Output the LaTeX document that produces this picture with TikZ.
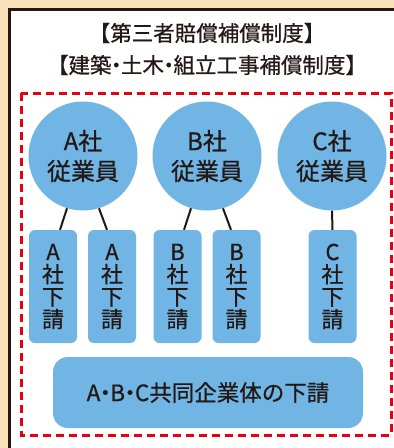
\documentclass[tikz,border=0pt]{standalone}
\usepackage{fontspec}
\setmainfont{Noto Sans CJK JP}[FakeBold=0.6]
\usepackage{tikz}
\usetikzlibrary{positioning}
\definecolor{bgbeige}{RGB}{250,225,187}
\definecolor{staffblue}{RGB}{112,181,228}
\definecolor{framered}{RGB}{230,0,18}
\definecolor{inkdark}{RGB}{35,24,21}
\newcommand{\nakadot}{\hspace{-0.28em}・\hspace{-0.28em}}
\tikzset{
  staff/.style={circle,fill=staffblue,minimum size=109pt,inner sep=0pt,align=center,text=inkdark,font=\fontsize{24}{30}\selectfont},
  subbox/.style={rectangle,rounded corners=6pt,fill=staffblue,minimum width=48pt,minimum height=113pt,inner sep=0pt,align=center,text=inkdark,font=\fontsize{22}{22.5}\selectfont},
  jointbox/.style={rectangle,rounded corners=15pt,fill=staffblue,minimum width=310pt,minimum height=71pt,inner sep=0pt,text=inkdark,font=\fontsize{22.5}{25}\selectfont},
  link/.style={draw=inkdark,line width=2pt}
}
\begin{document}
\begin{tikzpicture}[x=1pt,y=-1pt]
 	\useasboundingbox (0,0) rectangle (394,448);
 	\clip (0,0) rectangle (394,448);
 	%background and panel
 	\fill[bgbeige] (0,0) rectangle (394,448);
 	\filldraw[fill=white,draw=inkdark,line width=3pt] (9.5,460) -- (9.5,9.5) -- (410,9.5) -- (410,460) -- cycle;
 	\node[align=center,text=inkdark,font=\fontsize{21.5}{32}\selectfont] (title) at (207,49) {【第三者賠償補償制度】\\【建築\nakadot 土木\nakadot 組立工事補償制度】};
 	\draw[framered,line width=3pt,dash pattern=on 8pt off 5pt] (21,93) rectangle (391,435);
 	%employees
 	\node[staff] (ca) at (83,156) {A社\\従業員};
 	\node[staff] (cb) at (207,156) {B社\\従業員};
 	\node[staff] (cc) at (332,156) {C社\\従業員};
 	%subcontractors
 	\node[subbox] (a1) at (53,286.5) {A\\社\\下\\請};
 	\node[subbox] (a2) at (112,286.5) {A\\社\\下\\請};
 	\node[subbox] (b1) at (177.5,286.5) {B\\社\\下\\請};
 	\node[subbox] (b2) at (236.5,286.5) {B\\社\\下\\請};
 	\node[subbox] (c1) at (332.5,286.5) {C\\社\\下\\請};
 	\draw[link] (ca.253) -- ([xshift=7pt]a1.north);
 	\draw[link] (ca.287) -- ([xshift=-5pt]a2.north);
 	\draw[link] (cb.253) -- ([xshift=6.5pt]b1.north);
 	\draw[link] (cb.287) -- ([xshift=-5.5pt]b2.north);
 	\draw[link] (cc.south) -- (c1.north);
 	%joint venture
 	\node[jointbox] (jv) at (208,392.5) {A\nakadot B\nakadot C共同企業体の下請};
\end{tikzpicture}
\end{document}
